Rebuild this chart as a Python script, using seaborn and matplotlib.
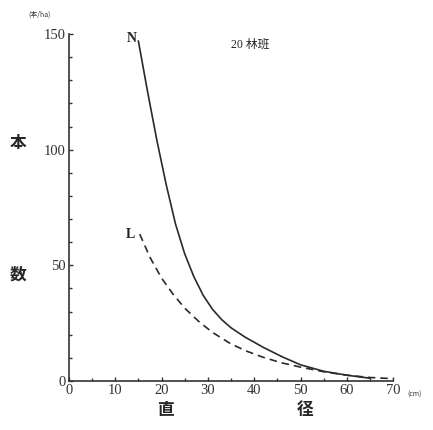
import matplotlib
matplotlib.use("Agg")
import matplotlib.pyplot as plt
import seaborn as sns
import pandas as pd
from matplotlib.ticker import MultipleLocator

# Data
n_diam = [15, 17, 19, 21, 23, 25, 27, 29, 31, 33, 35, 38, 42, 46, 50, 55, 60, 65]
n_count = [147, 125, 104, 85, 68, 55, 45, 37, 31, 26.5, 23, 19, 14.5, 10.5, 7, 4.2, 2.5, 1.2]
l_diam = [15.3, 17.5, 20, 22.5, 25, 28, 31, 35, 38.5, 42, 46, 50, 55, 60, 65, 70]
l_count = [63.5, 53.5, 44.5, 37.5, 31.5, 25.8, 21, 16, 12.8, 10.2, 7.8, 6, 4, 2.5, 1.5, 1]
x_ticks = [0, 10, 20, 30, 40, 50, 60, 70]
y_ticks = [0, 50, 100, 150]

sns.set_theme(style="white")
plt.rcParams['font.family'] = ['Liberation Serif', 'Noto Sans CJK JP', 'DejaVu Sans']

df_n = pd.DataFrame({"d": n_diam, "c": n_count})
df_l = pd.DataFrame({"d": l_diam, "c": l_count})

fig = plt.figure(figsize=(4.33, 4.30), dpi=100)
ax = fig.add_axes([0.159, 0.114, 0.749, 0.807])

sns.lineplot(data=df_n, x="d", y="c", ax=ax, color="#2a2a2a", lw=1.2, estimator=None, sort=True)
sns.lineplot(data=df_l, x="d", y="c", ax=ax, color="#2a2a2a", lw=1.2, estimator=None, sort=True,
             linestyle=(0, (4.5, 3)))

ax.set_xlim(0, 70)
ax.set_ylim(0, 150)
ax.set_xticks(x_ticks)
ax.set_yticks(y_ticks)
ax.xaxis.set_minor_locator(MultipleLocator(5))
ax.yaxis.set_minor_locator(MultipleLocator(10))
ax.tick_params(axis='both', which='major', direction='in', length=3, width=1, labelsize=10.5,
               colors='#333333', pad=2)
ax.tick_params(axis='both', which='minor', direction='in', length=2, width=1, colors='#333333')
ax.tick_params(axis='both', which='both', bottom=True, left=True)
for s in ['top', 'right']:
    ax.spines[s].set_visible(False)
for s in ['left', 'bottom']:
    ax.spines[s].set_color('#333333')
    ax.spines[s].set_linewidth(1.2)
ax.set_xlabel("")
ax.set_ylabel("")

cjk = ['Noto Sans CJK JP', 'DejaVu Sans']
fig.text(18/433, 1-143/430, "本", family=cjk, fontsize=12, fontweight='bold', ha='center', va='center')
fig.text(18/433, 1-275/430, "数", family=cjk, fontsize=12, fontweight='bold', ha='center', va='center')
fig.text(165/433, 1-410/430, "直", family=cjk, fontsize=12, fontweight='bold', ha='center', va='center')
fig.text(305/433, 1-410/430, "径", family=cjk, fontsize=12, fontweight='bold', ha='center', va='center')
fig.text(40/433, 1-15/430, "(本/ha)", family=cjk, fontsize=5, ha='center', va='center', color='#333333')
fig.text(415/433, 1-395/430, "(cm)", family=cjk, fontsize=5, ha='center', va='center', color='#333333')
fig.text(250/433, 1-45/430, "20 林班", family=['Liberation Serif', 'Noto Sans CJK JP'], fontsize=8.5,
         ha='center', va='center', color='#222222')
ax.text(13.5, 148, "N", fontsize=10, fontweight='bold', ha='center', va='center', color='#222222')
ax.text(13.2, 63.5, "L", fontsize=10, fontweight='bold', ha='center', va='center', color='#222222')

fig.savefig("out.png", dpi=100)
